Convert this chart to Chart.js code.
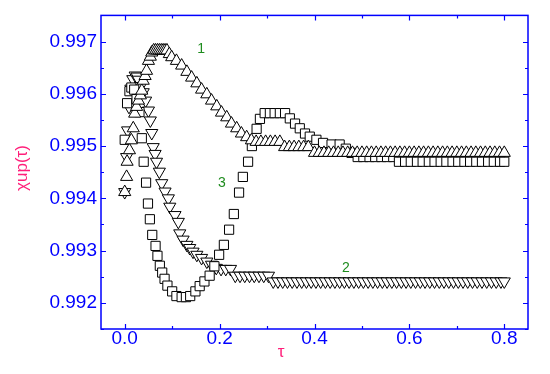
<!DOCTYPE html>
<html><head><meta charset="utf-8">
<script src="https://cdn.jsdelivr.net/npm/chart.js@4/dist/chart.umd.min.js"></script>
<style>html,body{margin:0;padding:0;background:#fff}#wrap{width:550px;height:374px}</style>
</head><body><div id="wrap"><canvas id="c" width="550" height="374"></canvas></div>
<script>
// ---- tick values ----
const xTicks = [0.0, 0.2, 0.4, 0.6, 0.8];
const xMinorTicks = [0.1, 0.3, 0.5, 0.7];
const yTicks = [0.992, 0.993, 0.994, 0.995, 0.996, 0.997];
const yMinorTicks = [0.9915, 0.9925, 0.9935, 0.9945, 0.9955, 0.9965, 0.9975];

// ---- series 1 (up triangles) ----
const s1X = [0.000,0.004,0.005,0.010,0.014,0.018,0.021,0.025,0.029,0.033,
             0.036,0.039,0.043,0.046,0.050,0.054,0.057,0.061,0.065,0.069,
             0.073,0.077,0.081,0.085,0.089,0.094,0.099,0.109,0.120,0.131,
             0.141,0.152,0.162,0.173,0.183,0.194,0.204,0.215,0.225,0.236,
             0.246,0.257,0.267,0.277,0.287,0.297,0.307,0.317,0.327,0.337,
             0.347,0.357,0.367,0.377,0.387,0.40,0.41,0.42,0.43,0.44,
             0.45,0.46,0.47,0.48,0.49,0.50,0.51,0.52,0.53,0.54,
             0.55,0.56,0.57,0.58,0.59,0.60,0.61,0.62,0.63,0.64,
             0.65,0.66,0.67,0.68,0.69,0.70,0.71,0.72,0.73,0.74,
             0.75,0.76,0.77,0.78,0.79,0.80];
const s1Y = [0.99412,0.99441,0.99470,0.99492,0.99511,0.99534,0.99562,0.99575,0.99587,0.99597,
             0.99606,0.99625,0.99634,0.99644,0.99663,0.99671,0.99679,0.99683,0.99683,0.99683,
             0.99683,0.99683,0.99683,0.99683,0.99683,0.99676,0.99670,0.99663,0.99654,0.99642,
             0.99631,0.99620,0.99608,0.99599,0.99587,0.99576,0.99564,0.99555,0.99543,0.99534,
             0.99524,0.99517,0.99511,0.99508,0.99508,0.99508,0.99508,0.99508,0.99508,0.99498,
             0.99498,0.99498,0.99498,0.99498,0.99498,0.99487,0.99487,0.99487,0.99487,0.99487,
             0.99487,0.99487,0.99487,0.99487,0.99487,0.99487,0.99487,0.99487,0.99487,0.99487,
             0.99487,0.99487,0.99487,0.99487,0.99487,0.99487,0.99487,0.99487,0.99487,0.99487,
             0.99487,0.99487,0.99487,0.99487,0.99487,0.99487,0.99487,0.99487,0.99487,0.99487,
             0.99487,0.99487,0.99487,0.99487,0.99487,0.99487];

// ---- series 2 (down triangles) ----
const s2X = [0.000,0.004,0.006,0.009,0.013,0.017,0.022,0.026,0.029,0.034,
             0.039,0.044,0.050,0.054,0.057,0.060,0.064,0.067,0.073,0.078,
             0.085,0.092,0.095,0.106,0.113,0.116,0.123,0.131,0.137,0.144,
             0.152,0.162,0.173,0.183,0.193,0.203,0.213,0.223,0.233,0.243,
             0.253,0.263,0.273,0.283,0.293,0.303,0.313,0.323,0.333,0.343,
             0.353,0.363,0.373,0.383,0.393,0.403,0.413,0.423,0.433,0.443,
             0.453,0.463,0.473,0.483,0.493,0.503,0.513,0.523,0.533,0.543,
             0.553,0.563,0.573,0.583,0.593,0.603,0.613,0.623,0.633,0.643,
             0.653,0.663,0.673,0.683,0.693,0.703,0.713,0.723,0.733,0.743,
             0.753,0.763,0.773,0.783,0.793,0.800];
const s2Y = [0.99412,0.99479,0.99530,0.99575,0.99610,0.99628,0.99635,0.99633,0.99627,0.99615,
             0.99603,0.99587,0.99568,0.99549,0.99525,0.99498,0.99485,0.99470,0.99451,0.99429,
             0.99413,0.99400,0.99384,0.99368,0.99355,0.99333,0.99321,0.99311,0.99305,0.99298,
             0.99292,0.99286,0.99279,0.99273,0.99267,0.99265,0.99265,0.99265,0.99252,0.99252,
             0.99252,0.99252,0.99252,0.99252,0.99252,0.99252,0.99241,0.99241,0.99241,0.99241,
             0.99241,0.99241,0.99241,0.99241,0.99241,0.99241,0.99241,0.99241,0.99241,0.99241,
             0.99241,0.99241,0.99241,0.99241,0.99241,0.99241,0.99241,0.99241,0.99241,0.99241,
             0.99241,0.99241,0.99241,0.99241,0.99241,0.99241,0.99241,0.99241,0.99241,0.99241,
             0.99241,0.99241,0.99241,0.99241,0.99241,0.99241,0.99241,0.99241,0.99241,0.99241,
             0.99241,0.99241,0.99241,0.99241,0.99241,0.99241];

// ---- series 3 (squares) ----
const s3X = [0.000,0.005,0.010,0.014,0.020,0.025,0.031,0.036,0.040,0.045,
             0.049,0.053,0.058,0.065,0.069,0.074,0.079,0.084,0.090,0.100,
             0.109,0.120,0.129,0.138,0.149,0.158,0.168,0.179,0.189,0.199,
             0.209,0.220,0.230,0.241,0.249,0.260,0.268,0.278,0.285,0.295,
             0.306,0.316,0.327,0.338,0.348,0.359,0.369,0.380,0.390,0.404,
             0.418,0.436,0.453,0.466,0.478,0.491,0.503,0.516,0.528,0.541,
             0.553,0.566,0.578,0.591,0.603,0.616,0.628,0.641,0.653,0.666,
             0.678,0.691,0.703,0.716,0.728,0.741,0.753,0.766,0.778,0.791,
             0.800];
const s3Y = [0.99512,0.99582,0.99605,0.99612,0.99608,0.99590,0.99565,0.99515,0.99470,0.99430,
             0.99390,0.99360,0.99330,0.99309,0.99290,0.99271,0.99258,0.99246,0.99233,0.99222,
             0.99213,0.99211,0.99211,0.99213,0.99222,0.99232,0.99241,0.99252,0.99270,0.99292,
             0.99311,0.99340,0.99370,0.99411,0.99441,0.99470,0.99500,0.99533,0.99552,0.99563,
             0.99563,0.99563,0.99563,0.99563,0.99553,0.99543,0.99534,0.99524,0.99518,0.99512,
             0.99506,0.99503,0.99503,0.99495,0.99487,0.99479,0.99479,0.99479,0.99479,0.99479,
             0.99479,0.99479,0.99470,0.99470,0.99470,0.99470,0.99470,0.99470,0.99470,0.99470,
             0.99470,0.99470,0.99470,0.99470,0.99470,0.99470,0.99470,0.99470,0.99470,0.99470,
             0.99470];

// ---- curve labels ----
const curveLabels = ['1', '2', '3'];
const curveLabelX = [0.161, 0.466, 0.205];
const curveLabelY = [0.99686, 0.99267, 0.99430];

const toPts = (xs, ys) => xs.map((v, i) => ({x: v, y: ys[i]}));

const AXIS = '#0000ff';
const PINK = '#ff1f7a';
const GREEN = '#1e8c1e';
const FONT = '"Liberation Sans", Arial, sans-serif';

const decor = {
  id: 'decor',
  afterDraw(chart) {
    const {ctx, chartArea: a, scales: {x, y}} = chart;
    ctx.save();
    ctx.strokeStyle = AXIS;
    ctx.lineWidth = 1.5;
    ctx.strokeRect(a.left, a.top, a.right - a.left, a.bottom - a.top);
    ctx.lineWidth = 1.2;
    ctx.beginPath();
    const xt = (vals, len) => vals.forEach(v => {
      const p = Math.round(x.getPixelForValue(v)) + 0.5;
      ctx.moveTo(p, a.bottom); ctx.lineTo(p, a.bottom - len);
      ctx.moveTo(p, a.top); ctx.lineTo(p, a.top + len);
    });
    const yt = (vals, len) => vals.forEach(v => {
      const p = Math.round(y.getPixelForValue(v)) + 0.5;
      ctx.moveTo(a.left, p); ctx.lineTo(a.left + len, p);
      ctx.moveTo(a.right, p); ctx.lineTo(a.right - len, p);
    });
    xt(xTicks, 5); xt(xMinorTicks, 3);
    yt(yTicks, 5); yt(yMinorTicks, 3);
    ctx.stroke();

    // curve labels
    ctx.fillStyle = GREEN;
    ctx.font = '14px ' + FONT;
    ctx.textAlign = 'center';
    ctx.textBaseline = 'middle';
    curveLabels.forEach((t, i) => {
      ctx.fillText(t, x.getPixelForValue(curveLabelX[i]), y.getPixelForValue(curveLabelY[i]));
    });

    // axis titles
    ctx.fillStyle = PINK;
    ctx.font = '17px ' + FONT;
    ctx.fillText('τ', 281, 352);
    ctx.translate(22, 168);
    ctx.rotate(-Math.PI / 2);
    ctx.fillText('χup(τ)', 0, 0);
    ctx.restore();
  }
};

new Chart(document.getElementById('c'), {
  type: 'scatter',
  data: {
    datasets: [
      {label: '1', data: toPts(s1X, s1Y), pointStyle: 'triangle', pointRadius: 7,
       borderColor: '#000', backgroundColor: '#fff', borderWidth: 1, order: 1},
      {label: '3', data: toPts(s3X, s3Y), pointStyle: 'rect', pointRadius: 6.5,
       borderColor: '#000', backgroundColor: '#fff', borderWidth: 1, order: 2},
      {label: '2', data: toPts(s2X, s2Y), pointStyle: 'triangle', pointRotation: 180, pointRadius: 7,
       borderColor: '#000', backgroundColor: '#fff', borderWidth: 1, order: 3}
    ]
  },
  options: {
    responsive: false,
    animation: false,
    devicePixelRatio: 1,
    layout: {padding: {left: 0, top: 15, right: 22, bottom: 0}},
    plugins: {legend: {display: false}, tooltip: {enabled: false}},
    elements: {point: {hoverRadius: 7}},
    scales: {
      x: {
        type: 'linear', min: -0.05, max: 0.85,
        afterBuildTicks: s => { s.ticks = xTicks.map(v => ({value: v})); },
        afterFit: s => { s.height = 45; },
        grid: {display: false, drawTicks: false},
        border: {display: false},
        ticks: {color: AXIS, font: {family: FONT, size: 19}, padding: -2,
                callback: v => Number(v).toFixed(1)}
      },
      y: {
        type: 'linear', min: 0.9915, max: 0.9975,
        afterBuildTicks: s => { s.ticks = yTicks.map(v => ({value: v})); },
        afterFit: s => { s.width = 101; },
        grid: {display: false, drawTicks: false},
        border: {display: false},
        ticks: {color: AXIS, font: {family: FONT, size: 19}, padding: 4,
                callback: v => Number(v).toFixed(3)}
      }
    }
  },
  plugins: [decor]
});
</script>
</body></html>
